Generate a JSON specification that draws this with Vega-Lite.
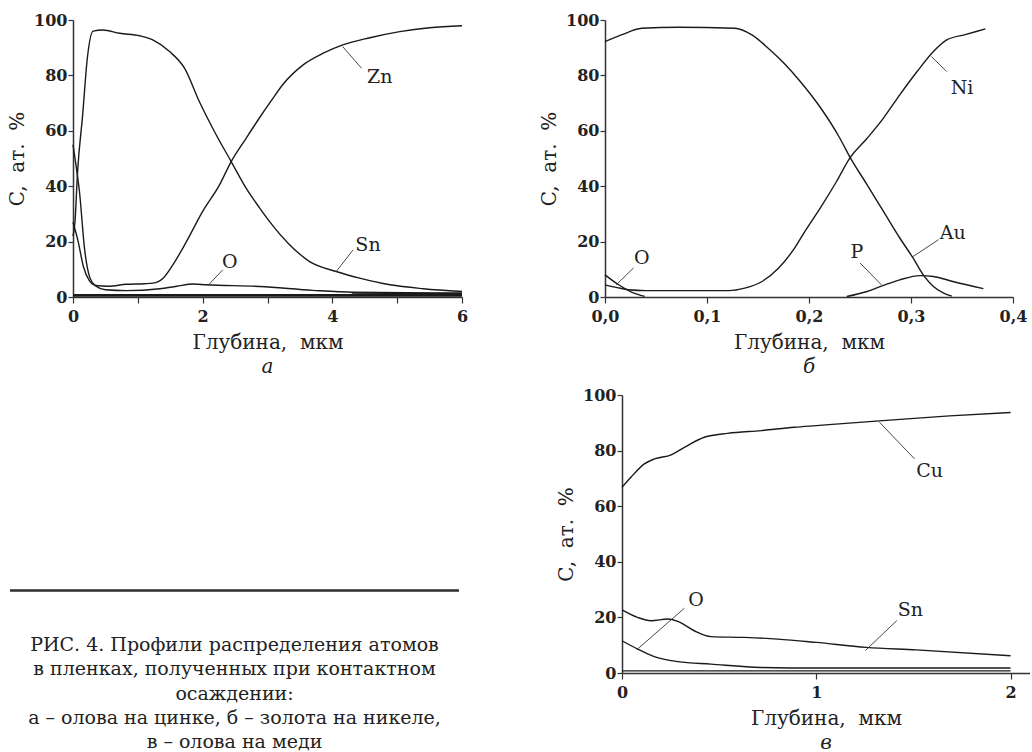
{
 "$schema": "https://vega.github.io/schema/vega-lite/v6.json",
 "background": "white",
 "padding": {"left": 7, "top": 12, "right": 0, "bottom": 0},
 "spacing": 10,
 "datasets": {
  "a_lines": [
   {"s":"Sn","x":0,"c":22},{"s":"Sn","x":0.03,"c":27},{"s":"Sn","x":0.07,"c":45},{"s":"Sn","x":0.15,"c":66},{"s":"Sn","x":0.22,"c":86},{"s":"Sn","x":0.31,"c":96},{"s":"Sn","x":0.46,"c":96.4},{"s":"Sn","x":0.72,"c":95.2},{"s":"Sn","x":1.03,"c":94.3},{"s":"Sn","x":1.23,"c":92.8},{"s":"Sn","x":1.49,"c":88.6},{"s":"Sn","x":1.72,"c":82.6},{"s":"Sn","x":1.95,"c":70.5},{"s":"Sn","x":2.21,"c":58.5},{"s":"Sn","x":2.44,"c":48.9},{"s":"Sn","x":2.67,"c":39.3},{"s":"Sn","x":2.88,"c":32.1},{"s":"Sn","x":3.03,"c":27.3},{"s":"Sn","x":3.34,"c":18.9},{"s":"Sn","x":3.65,"c":12.8},{"s":"Sn","x":4.06,"c":9.2},{"s":"Sn","x":4.42,"c":6.8},{"s":"Sn","x":4.89,"c":4.4},{"s":"Sn","x":5.4,"c":3.0},{"s":"Sn","x":6.0,"c":2.0},
   {"s":"Zn","x":0,"c":27},{"s":"Zn","x":0.08,"c":20},{"s":"Zn","x":0.16,"c":11},{"s":"Zn","x":0.25,"c":6},{"s":"Zn","x":0.35,"c":4.2},{"s":"Zn","x":0.55,"c":3.9},{"s":"Zn","x":0.82,"c":4.6},{"s":"Zn","x":1.1,"c":4.8},{"s":"Zn","x":1.23,"c":5.0},{"s":"Zn","x":1.39,"c":6.8},{"s":"Zn","x":1.54,"c":11.6},{"s":"Zn","x":1.75,"c":20},{"s":"Zn","x":2.0,"c":30.9},{"s":"Zn","x":2.26,"c":40.5},{"s":"Zn","x":2.44,"c":48.9},{"s":"Zn","x":2.67,"c":57.3},{"s":"Zn","x":2.88,"c":64.8},{"s":"Zn","x":3.05,"c":70.6},{"s":"Zn","x":3.24,"c":76.8},{"s":"Zn","x":3.55,"c":83.8},{"s":"Zn","x":3.86,"c":88},{"s":"Zn","x":4.16,"c":91},{"s":"Zn","x":4.58,"c":93.6},{"s":"Zn","x":5.04,"c":95.8},{"s":"Zn","x":5.5,"c":97.2},{"s":"Zn","x":6.0,"c":97.9},
   {"s":"O","x":0,"c":55},{"s":"O","x":0.05,"c":47},{"s":"O","x":0.1,"c":38},{"s":"O","x":0.18,"c":17},{"s":"O","x":0.26,"c":7},{"s":"O","x":0.35,"c":4},{"s":"O","x":0.5,"c":2.6},{"s":"O","x":0.82,"c":2.3},{"s":"O","x":1.34,"c":3.0},{"s":"O","x":1.6,"c":3.9},{"s":"O","x":1.85,"c":4.7},{"s":"O","x":2.06,"c":4.4},{"s":"O","x":2.88,"c":3.8},{"s":"O","x":3.7,"c":2.4},{"s":"O","x":4.32,"c":1.7},{"s":"O","x":6.0,"c":1.4},
   {"s":"X1","x":0,"c":0.6},{"s":"X1","x":6,"c":0.6},
   {"s":"X2","x":4.3,"c":0.9},{"s":"X2","x":6,"c":1.2}
  ],
  "a_lbl": [
   {"label":"Zn","x":4.73,"c":79.5},
   {"label":"Sn","x":4.55,"c":18.9},
   {"label":"O","x":2.42,"c":12.8}
  ],
  "a_lead": [
   {"x":4.45,"c":82.6,"x2":4.16,"c2":90.4},
   {"x":4.32,"c":17,"x2":4.06,"c2":9.2},
   {"x":2.31,"c":9.8,"x2":2.08,"c2":4.1}
  ],
  "b_lines": [
   {"s":"Au","x":0,"c":92.2},{"s":"Au","x":0.016,"c":94.6},{"s":"Au","x":0.036,"c":97},{"s":"Au","x":0.072,"c":97.4},{"s":"Au","x":0.127,"c":97},{"s":"Au","x":0.144,"c":94.6},{"s":"Au","x":0.16,"c":89.8},{"s":"Au","x":0.176,"c":84.2},{"s":"Au","x":0.191,"c":78.0},{"s":"Au","x":0.211,"c":68.5},{"s":"Au","x":0.23,"c":57.5},{"s":"Au","x":0.24,"c":50.6},{"s":"Au","x":0.257,"c":40.5},{"s":"Au","x":0.273,"c":30.9},{"s":"Au","x":0.289,"c":21.3},{"s":"Au","x":0.302,"c":14.1},{"s":"Au","x":0.312,"c":8.0},{"s":"Au","x":0.322,"c":3.8},{"s":"Au","x":0.332,"c":1.4},{"s":"Au","x":0.34,"c":0.3},
   {"s":"Ni","x":0,"c":4.4},{"s":"Ni","x":0.012,"c":3.4},{"s":"Ni","x":0.023,"c":2.6},{"s":"Ni","x":0.04,"c":2.3},{"s":"Ni","x":0.121,"c":2.3},{"s":"Ni","x":0.137,"c":3.2},{"s":"Ni","x":0.154,"c":5.6},{"s":"Ni","x":0.17,"c":10.4},{"s":"Ni","x":0.186,"c":17.7},{"s":"Ni","x":0.196,"c":23.7},{"s":"Ni","x":0.211,"c":32.1},{"s":"Ni","x":0.227,"c":41.7},{"s":"Ni","x":0.24,"c":50.1},{"s":"Ni","x":0.257,"c":57.3},{"s":"Ni","x":0.273,"c":64.6},{"s":"Ni","x":0.289,"c":73},{"s":"Ni","x":0.306,"c":81.4},{"s":"Ni","x":0.322,"c":88.6},{"s":"Ni","x":0.335,"c":92.8},{"s":"Ni","x":0.354,"c":94.8},{"s":"Ni","x":0.373,"c":96.8},
   {"s":"O","x":0,"c":8},{"s":"O","x":0.013,"c":4.5},{"s":"O","x":0.026,"c":1.8},{"s":"O","x":0.039,"c":0.2},
   {"s":"P","x":0.237,"c":0.2},{"s":"P","x":0.257,"c":2.0},{"s":"P","x":0.273,"c":4.2},{"s":"P","x":0.289,"c":6.2},{"s":"P","x":0.309,"c":7.7},{"s":"P","x":0.322,"c":7.4},{"s":"P","x":0.341,"c":5.6},{"s":"P","x":0.371,"c":3.0}
  ],
  "b_lbl": [
   {"label":"Ni","x":0.35,"c":75.4},
   {"label":"Au","x":0.341,"c":23.1},
   {"label":"P","x":0.247,"c":16.4},
   {"label":"O","x":0.036,"c":14.1}
  ],
  "b_lead": [
   {"x":0.335,"c":81.4,"x2":0.32,"c2":86.8},
   {"x":0.327,"c":20.7,"x2":0.302,"c2":14.6},
   {"x":0.25,"c":12.3,"x2":0.271,"c2":4.4},
   {"x":0.028,"c":10.5,"x2":0.011,"c2":4.4}
  ],
  "c_lines": [
   {"s":"Cu","x":0,"c":66.8},{"s":"Cu","x":0.046,"c":70.4},{"s":"Cu","x":0.115,"c":75.2},{"s":"Cu","x":0.167,"c":77},{"s":"Cu","x":0.253,"c":78.5},{"s":"Cu","x":0.321,"c":81.2},{"s":"Cu","x":0.424,"c":84.8},{"s":"Cu","x":0.544,"c":86.2},{"s":"Cu","x":0.716,"c":87.2},{"s":"Cu","x":0.887,"c":88.4},{"s":"Cu","x":1.0,"c":89},{"s":"Cu","x":1.325,"c":90.7},{"s":"Cu","x":1.686,"c":92.5},{"s":"Cu","x":2.0,"c":93.7},
   {"s":"Sn","x":0,"c":22.7},{"s":"Sn","x":0.08,"c":20},{"s":"Sn","x":0.149,"c":18.8},{"s":"Sn","x":0.235,"c":19.4},{"s":"Sn","x":0.287,"c":18.6},{"s":"Sn","x":0.372,"c":15.2},{"s":"Sn","x":0.458,"c":13.1},{"s":"Sn","x":0.63,"c":12.8},{"s":"Sn","x":0.802,"c":12.2},{"s":"Sn","x":1.0,"c":11},{"s":"Sn","x":1.257,"c":9.2},{"s":"Sn","x":1.514,"c":8.3},{"s":"Sn","x":2.0,"c":6.2},
   {"s":"O","x":0,"c":11.6},{"s":"O","x":0.08,"c":8.6},{"s":"O","x":0.166,"c":5.9},{"s":"O","x":0.287,"c":4.1},{"s":"O","x":0.458,"c":3.2},{"s":"O","x":0.716,"c":2.0},{"s":"O","x":1.0,"c":1.8},{"s":"O","x":2.0,"c":1.8},
   {"s":"X1","x":0,"c":0.8},{"s":"X1","x":2,"c":0.8}
  ],
  "c_lbl": [
   {"label":"Cu","x":1.583,"c":72.8},
   {"label":"Sn","x":1.484,"c":22.5},
   {"label":"O","x":0.381,"c":26.3}
  ],
  "c_lead": [
   {"x":1.506,"c":77,"x2":1.325,"c2":90.2},
   {"x":1.415,"c":18.9,"x2":1.253,"c2":8.1},
   {"x":0.321,"c":23.3,"x2":0.08,"c2":8.6}
  ],
  "caption": [
   {"line":1,"text":"РИС. 4. Профили распределения атомов"},
   {"line":2,"text":"в пленках, полученных при контактном"},
   {"line":3,"text":"осаждении:"},
   {"line":4,"text":"а – олова на цинке, б – золота на никеле,"},
   {"line":5,"text":"в – олова на меди"}
  ]
 },
 "vconcat": [
  {
   "spacing": 71,
   "hconcat": [
    {
     "width": 389, "height": 277,
     "title": {"text": "а", "orient": "bottom"},
     "encoding": {
      "x": {"field": "x", "type": "quantitative", "scale": {"domain": [0, 6], "nice": false}, "axis": {"title": "Глубина,\u00a0 мкм", "values": [0,1,2,3,4,5,6], "labelExpr": "datum.value % 2 === 0 ? datum.label : ''"}},
      "y": {"field": "c", "type": "quantitative", "scale": {"domain": [0, 100], "nice": false}, "axis": {"title": "C,\u00a0 ат.\u00a0 %", "values": [0,20,40,60,80,100]}}
     },
     "layer": [
      {"data": {"name": "a_lines"}, "mark": {"type": "line", "color": "#1a1a1a", "interpolate": "monotone"},
       "encoding": {"detail": {"field": "s"}, "strokeWidth": {"condition": {"test": "datum.s === 'X1' || datum.s === 'X2'", "value": 2.6}, "value": 1.4}}},
      {"data": {"name": "a_lead"}, "mark": {"type": "rule", "color": "#333", "strokeWidth": 0.9},
       "encoding": {"x2": {"field": "x2"}, "y2": {"field": "c2"}}},
      {"data": {"name": "a_lbl"}, "mark": {"type": "text", "font": "DejaVu Serif", "fontSize": 19, "color": "#222", "align": "center", "baseline": "middle"},
       "encoding": {"text": {"field": "label"}}}
     ]
    },
    {
     "width": 408, "height": 277,
     "title": {"text": "б", "orient": "bottom"},
     "encoding": {
      "x": {"field": "x", "type": "quantitative", "scale": {"domain": [0, 0.4], "nice": false}, "axis": {"title": "Глубина,\u00a0 мкм", "values": [0,0.1,0.2,0.3,0.4], "labelExpr": "replace(format(datum.value, '.1f'), '.', ',')"}},
      "y": {"field": "c", "type": "quantitative", "scale": {"domain": [0, 100], "nice": false}, "axis": {"title": "C,\u00a0 ат.\u00a0 %", "values": [0,20,40,60,80,100]}}
     },
     "layer": [
      {"data": {"name": "b_lines"}, "mark": {"type": "line", "color": "#1a1a1a", "interpolate": "monotone", "strokeWidth": 1.4},
       "encoding": {"detail": {"field": "s"}}},
      {"data": {"name": "b_lead"}, "mark": {"type": "rule", "color": "#333", "strokeWidth": 0.9},
       "encoding": {"x2": {"field": "x2"}, "y2": {"field": "c2"}}},
      {"data": {"name": "b_lbl"}, "mark": {"type": "text", "font": "DejaVu Serif", "fontSize": 19, "color": "#222", "align": "center", "baseline": "middle"},
       "encoding": {"text": {"field": "label"}}}
     ]
    }
   ]
  },
  {
   "spacing": 96,
   "hconcat": [
    {
     "width": 386, "height": 278,
     "data": {"name": "caption"},
     "layer": [
      {"mark": {"type": "rule", "color": "#333", "strokeWidth": 1.5},
       "encoding": {
        "x": {"datum": -0.1632, "type": "quantitative", "scale": {"domain": [0, 1], "nice": false, "zero": false}, "axis": null},
        "x2": {"datum": 1},
        "y": {"datum": -1.28, "type": "quantitative", "scale": {"domain": [-9.33, 2.11], "nice": false, "zero": false, "reverse": true}, "axis": null}
       }},
      {"mark": {"type": "text", "font": "DejaVu Serif", "fontSize": 19, "color": "#222", "align": "center", "baseline": "middle", "dy": -1},
       "encoding": {
        "x": {"datum": 0.4184, "type": "quantitative", "scale": {"domain": [0, 1], "nice": false, "zero": false}, "axis": null},
        "y": {"field": "line", "type": "quantitative", "scale": {"domain": [-9.33, 2.11], "nice": false, "zero": false, "reverse": true}, "axis": null},
        "text": {"field": "text"}
       }}
     ]
    },
    {
     "width": 408, "height": 278,
     "title": {"text": "в", "orient": "bottom"},
     "encoding": {
      "x": {"field": "x", "type": "quantitative", "scale": {"domain": [0, 2.1], "nice": false}, "axis": {"title": "Глубина,\u00a0 мкм", "values": [0,1,2], "labelExpr": "format(datum.value, 'd')"}},
      "y": {"field": "c", "type": "quantitative", "scale": {"domain": [0, 100], "nice": false}, "axis": {"title": "C,\u00a0 ат.\u00a0 %", "values": [0,20,40,60,80,100]}}
     },
     "layer": [
      {"data": {"name": "c_lines"}, "mark": {"type": "line", "color": "#1a1a1a", "interpolate": "monotone"},
       "encoding": {"detail": {"field": "s"}, "strokeWidth": {"condition": {"test": "datum.s === 'X1'", "value": 1.2}, "value": 1.4}}},
      {"data": {"name": "c_lead"}, "mark": {"type": "rule", "color": "#333", "strokeWidth": 0.9},
       "encoding": {"x2": {"field": "x2"}, "y2": {"field": "c2"}}},
      {"data": {"name": "c_lbl"}, "mark": {"type": "text", "font": "DejaVu Serif", "fontSize": 19, "color": "#222", "align": "center", "baseline": "middle"},
       "encoding": {"text": {"field": "label"}}}
     ]
    }
   ]
  }
 ],
 "config": {
  "view": {"stroke": null},
  "font": "DejaVu Serif",
  "axis": {"labelFont": "DejaVu Serif", "labelFontSize": 16, "labelFontWeight": "bold", "labelColor": "#222", "titleFont": "DejaVu Serif", "titleFontSize": 20, "titleFontWeight": "normal", "titleColor": "#222", "domainColor": "#333", "domainWidth": 1.5, "tickColor": "#333", "tickWidth": 1.2, "tickSize": 6, "grid": false, "labelPadding": 5},
  "axisY": {"titlePadding": 6, "labelPadding": 1, "tickSize": 5},
  "axisX": {"titlePadding": 8, "labelFlush": false},
  "title": {"font": "DejaVu Serif", "fontSize": 20, "fontWeight": "normal", "fontStyle": "italic", "color": "#222", "offset": 5}
 }
}
